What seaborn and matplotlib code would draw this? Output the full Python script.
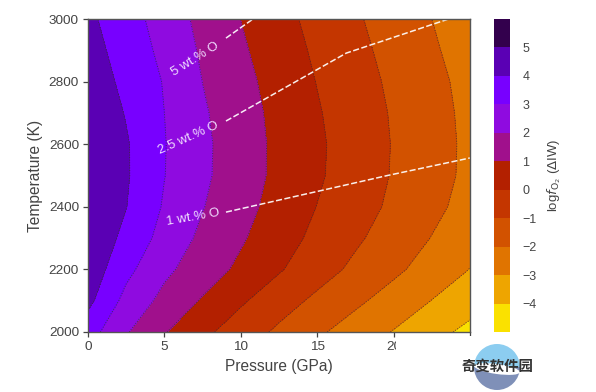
import numpy as np
import matplotlib
matplotlib.use("Agg")
import matplotlib.pyplot as plt
import seaborn as sns
from matplotlib.colors import BoundaryNorm
from matplotlib.patches import Circle, Rectangle, Wedge, Ellipse

pressure = [0, 2.5, 5, 7.5, 10, 12.5, 15, 17.5, 20, 22.5, 25]
temperature = [2000, 2100, 2200, 2300, 2400, 2500, 2600, 2700, 2800, 2900, 3000]
z_2000 = [3.44, 2.08, 1.06, 0.23, -0.50, -1.18, -1.84, -2.45, -3.05, -3.66, -4.27]
z_2100 = [4.25, 2.70, 1.71, 0.91, 0.13, -0.57, -1.21, -1.81, -2.41, -3.02, -3.57]
z_2200 = [4.63, 3.26, 2.21, 1.48, 0.80, 0.09, -0.58, -1.21, -1.80, -2.41, -3.02]
z_2300 = [4.75, 3.75, 2.64, 1.79, 1.11, 0.42, -0.24, -0.85, -1.44, -2.03, -2.72]
z_2400 = [4.90, 4.02, 2.90, 2.04, 1.33, 0.64, -0.02, -0.60, -1.18, -1.76, -2.34]
z_2500 = [4.95, 4.10, 3.02, 2.18, 1.45, 0.77, 0.13, -0.48, -1.07, -1.64, -2.21]
z_2600 = [4.92, 4.09, 3.04, 2.20, 1.46, 0.78, 0.15, -0.45, -1.05, -1.62, -2.20]
z_2700 = [4.81, 3.94, 3.00, 2.12, 1.40, 0.73, 0.08, -0.51, -1.09, -1.66, -2.23]
z_2800 = [4.57, 3.76, 2.94, 1.99, 1.29, 0.62, -0.03, -0.61, -1.18, -1.73, -2.30]
z_2900 = [4.38, 3.59, 2.75, 1.86, 1.14, 0.47, -0.16, -0.74, -1.31, -1.87, -2.43]
z_3000 = [4.20, 3.42, 2.57, 1.72, 0.99, 0.32, -0.30, -0.88, -1.44, -2.00, -2.56]

levels = [-5, -4, -3, -2, -1, 0, 1, 2, 3, 4, 5, 6]
cbar_ticks = [-4, -3, -2, -1, 0, 1, 2, 3, 4, 5]
band_colors = ["#fae100", "#eea500", "#e07400", "#d25200", "#c43600", "#b32000",
               "#a0108c", "#8f0be0", "#7800ff", "#5a00b4", "#33004d"]

line_1_p = [9.03, 19.6, 25.0]
line_1_t = [2383, 2500, 2556]
line_25_p = [9.03, 16.9, 23.6]
line_25_t = [2674, 2891, 3000]
line_5_p = [9.03, 10.8]
line_5_t = [2939, 3000]
composition_labels = ["1 wt.% O", "2.5 wt.% O", "5 wt.% O"]
label_p = [6.9, 6.6, 7.0]
label_t = [2365, 2620, 2870]
label_rot = [10, 24, 32]

sns.set_theme(style="ticks")
plt.rcParams["font.family"] = ["Liberation Sans", "DejaVu Sans"]
ink = "#444444"

W, H = 596, 392
fig = plt.figure(figsize=(W / 100, H / 100), dpi=100)
ax = fig.add_axes([88 / W, 1 - 332 / H, 382 / W, 313 / H])
cax = fig.add_axes([494 / W, 1 - 332 / H, 16 / W, 313 / H])

Z = np.array([z_2000, z_2100, z_2200, z_2300, z_2400, z_2500,
              z_2600, z_2700, z_2800, z_2900, z_3000])
palette = sns.color_palette(band_colors, n_colors=len(band_colors))
cf = ax.contourf(pressure, temperature, Z, levels=levels, colors=palette)
ax.contour(pressure, temperature, Z, levels=levels, colors="#3a3030",
           linestyles=":", linewidths=0.7, alpha=0.8)

dash = dict(color="white", lw=1.1, ls=(0, (4, 1.6)), alpha=0.92)
ax.plot(line_1_p, line_1_t, **dash)
ax.plot(line_25_p, line_25_t, **dash)
ax.plot(line_5_p, line_5_t, **dash)
for lab, p, t, r in zip(composition_labels, label_p, label_t, label_rot):
    ax.text(p, t, lab, color="#f0dcff", fontsize=9.5, rotation=r,
            rotation_mode="anchor", ha="center", va="center")

ax.set_xlim(0, 25)
ax.set_ylim(2000, 3000)
ax.set_xticks([0, 5, 10, 15, 20, 25])
ax.set_yticks([2000, 2200, 2400, 2600, 2800, 3000])
ax.tick_params(labelsize=9.7, colors=ink, length=3.5, width=0.9, pad=3)
ax.set_xlabel("Pressure (GPa)", fontsize=11.2, color=ink, labelpad=4)
ax.set_ylabel("Temperature (K)", fontsize=11.2, color=ink, labelpad=4)
for s in ax.spines.values():
    s.set_color("#555555")
    s.set_linewidth(1.0)

cb = fig.colorbar(cf, cax=cax, ticks=cbar_ticks)
cb.ax.tick_params(labelsize=9, colors=ink, length=0, pad=9)
cb.outline.set_visible(False)
cb.set_label(r"log$f_{\mathrm{O}_2}$ ($\Delta$IW)", fontsize=9.5, color=ink, labelpad=6)

# watermark overlay in pixel coordinates
ov = fig.add_axes([0, 0, 1, 1], facecolor="none")
ov.set_xlim(0, W)
ov.set_ylim(H, 0)
ov.axis("off")
ov.add_patch(Rectangle((396, 336), 70, 16, fc="white", ec="none"))
ov.add_patch(Rectangle((466, 336), 14, 16, fc="white", ec="none"))
ov.add_patch(Wedge((497, 367), 23, 180, 360, fc="#8ccdf0", ec="none"))
ov.add_patch(Wedge((497, 367), 23, 0, 180, fc="#7f90b8", ec="none"))
ov.add_patch(Ellipse((497, 369), 46, 10, angle=8, fc="white", ec="none"))
ov.text(497, 367, "奇变软件园", fontsize=10.4, fontweight="bold", color="#333333",
        ha="center", va="center", family=["Noto Sans CJK SC", "DejaVu Sans"])

fig.savefig("out.png", dpi=100)
